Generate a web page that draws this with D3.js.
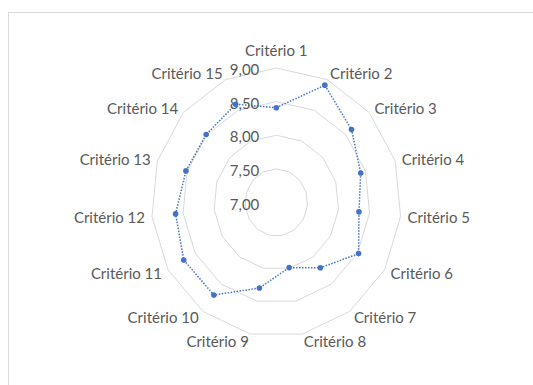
<!DOCTYPE html>
<html>
<head>
<meta charset="utf-8">
<script src="https://cdn.jsdelivr.net/npm/d3@7"></script>
<style>
  html, body { margin: 0; padding: 0; background: #fff; }
  svg { display: block; }
  text { font-family: Lato, "Liberation Sans", sans-serif; fill: #595959; }
</style>
</head>
<body>
<svg id="chart" width="533" height="385"></svg>
<script>
// Radar chart: scores per criterion
const categories = ["Critério 1", "Critério 2", "Critério 3", "Critério 4", "Critério 5",
  "Critério 6", "Critério 7", "Critério 8", "Critério 9", "Critério 10",
  "Critério 11", "Critério 12", "Critério 13", "Critério 14", "Critério 15"];
const scores = [8.41, 8.91, 8.62, 8.42, 8.33, 8.52, 8.20, 7.99, 8.30, 8.70, 8.71, 8.62, 8.52, 8.51, 8.60];
const tickValues = [7.0, 7.5, 8.0, 8.5, 9.0];
const tickLabels = ["7,00", "7,50", "8,00", "8,50", "9,00"];

const svg = d3.select("#chart");
const W = 533, H = 385;

// chart area frame
svg.append("rect")
  .attr("x", 8.5).attr("y", 12.5)
  .attr("width", 600).attr("height", 400)
  .attr("fill", "#fff").attr("stroke", "#d9d9d9").attr("stroke-width", 1);

const cx = 276.3, cy = 202.5;
const rx = d3.scaleLinear().domain([7, 9]).range([0, 125]);
const ry = d3.scaleLinear().domain([7, 9]).range([0, 134.5]);
const angle = d3.scaleLinear().domain([0, categories.length]).range([0, 2 * Math.PI]);

const px = (i, v) => cx + rx(v) * Math.sin(angle(i));
const py = (i, v) => cy - ry(v) * Math.cos(angle(i));

const g = svg.append("g");

// gridline polygons
const ringLine = d3.line().curve(d3.curveLinearClosed);
g.selectAll("path.ring")
  .data(tickValues.filter(t => t > 7))
  .join("path")
  .attr("class", "ring")
  .attr("d", t => ringLine(categories.map((c, i) => [px(i, t), py(i, t)])))
  .attr("fill", "none")
  .attr("stroke", "#d9d9d9")
  .attr("stroke-width", 1);

// category labels
const maxV = tickValues[tickValues.length - 1];
g.selectAll("text.cat")
  .data(categories)
  .join("text")
  .attr("class", "cat")
  .attr("font-size", 15)
  .attr("dominant-baseline", "central")
  .attr("text-anchor", (d, i) => {
    const s = Math.sin(angle(i));
    return Math.abs(s) < 0.05 ? "middle" : (s > 0 ? "start" : "end");
  })
  .attr("x", (d, i) => px(i, maxV) + 7 * Math.sin(angle(i)))
  .attr("y", (d, i) => {
    const a = angle(i);
    const extra = Math.abs(Math.sin(a)) < 0.05 ? -11 * Math.cos(a) : 0;
    return py(i, maxV) - 7 * Math.cos(a) + extra;
  })
  .text(d => d);

// series line
const seriesLine = d3.line().curve(d3.curveLinearClosed);
g.append("path")
  .attr("d", seriesLine(scores.map((v, i) => [px(i, v), py(i, v)])))
  .attr("fill", "none")
  .attr("stroke", "#4472C4")
  .attr("stroke-width", 1.5)
  .attr("stroke-dasharray", "1.5,1.5");

// value axis labels
g.selectAll("text.tick")
  .data(tickValues)
  .join("text")
  .attr("class", "tick")
  .attr("font-size", 15)
  .attr("text-anchor", "end")
  .attr("dominant-baseline", "central")
  .attr("x", cx - 17)
  .attr("y", t => cy - ry(t) + 1)
  .text((t, i) => tickLabels[i]);

// markers
g.selectAll("circle.pt")
  .data(scores)
  .join("circle")
  .attr("class", "pt")
  .attr("cx", (v, i) => px(i, v))
  .attr("cy", (v, i) => py(i, v))
  .attr("r", 2.8)
  .attr("fill", "#4472C4");
</script>
</body>
</html>
